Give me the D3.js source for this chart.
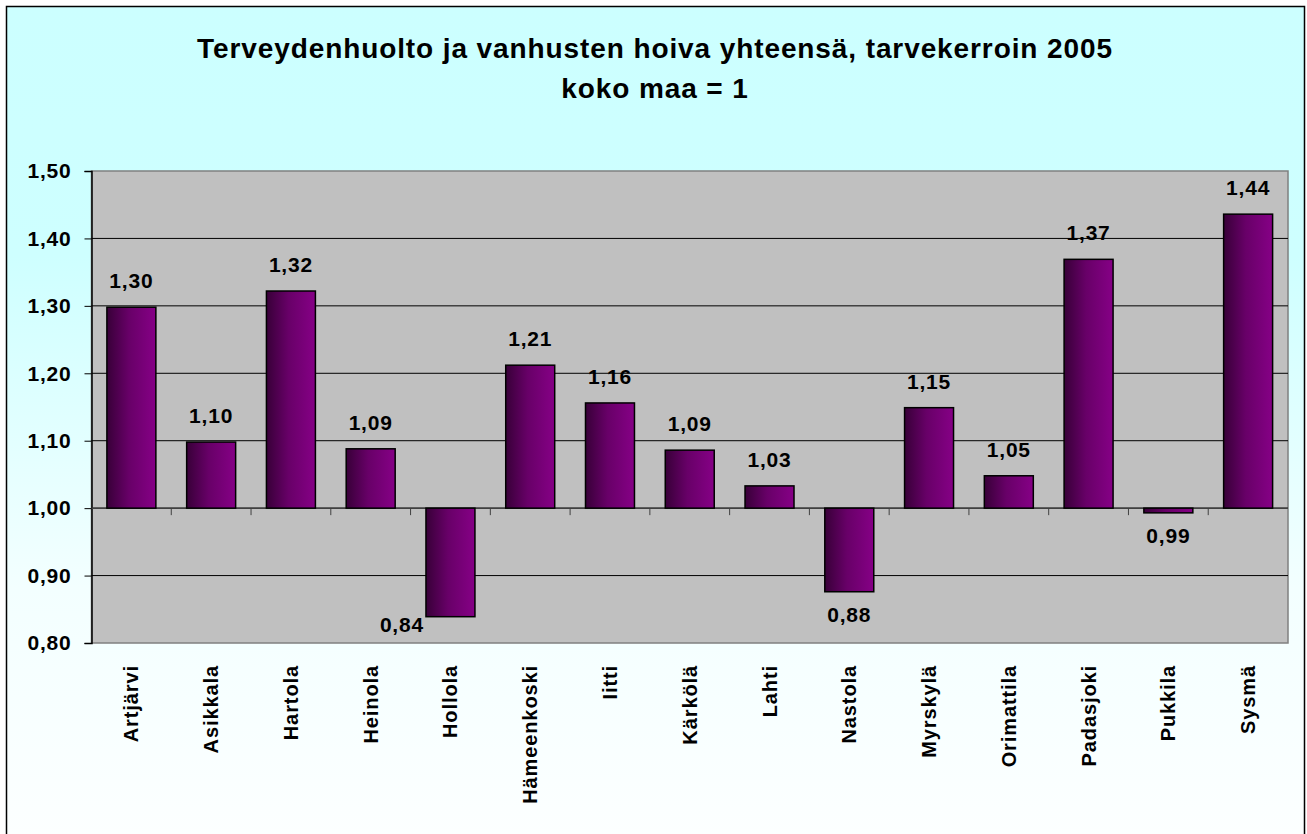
<!DOCTYPE html>
<html>
<head>
<meta charset="utf-8">
<script src="https://cdn.jsdelivr.net/npm/d3@7"></script>
<style>
  body { margin: 0; background: #fff; }
  svg text { font-family: "Liberation Sans", Arial, sans-serif; font-weight: bold; fill: #000; }
</style>
</head>
<body>
<svg id="chart" width="1307" height="834"></svg>
<script>
const municipalities = ["Artjärvi", "Asikkala", "Hartola", "Heinola", "Hollola", "Hämeenkoski", "Iitti",
  "Kärkölä", "Lahti", "Nastola", "Myrskylä", "Orimattila", "Padasjoki", "Pukkila", "Sysmä"];
const needIndex = [1.298, 1.098, 1.322, 1.088, 0.839, 1.212, 1.156, 1.086, 1.033, 0.876, 1.149, 1.048, 1.369, 0.993, 1.436];
const yTicks = [0.8, 0.9, 1.0, 1.1, 1.2, 1.3, 1.4, 1.5];
const titleLines = ["Terveydenhuolto ja vanhusten hoiva yhteensä, tarvekerroin 2005", "koko maa = 1"];
const baseline = 1.0;

const svg = d3.select("#chart");
const plot = { left: 91.5, right: 1288, top: 171, bottom: 643 };

const defs = svg.append("defs");
const bg = defs.append("linearGradient").attr("id", "bg").attr("x1", 0).attr("y1", 0).attr("x2", 0).attr("y2", 1);
bg.append("stop").attr("offset", "0%").attr("stop-color", "#ccffff");
bg.append("stop").attr("offset", "30%").attr("stop-color", "#ceffff");
bg.append("stop").attr("offset", "70%").attr("stop-color", "#f3ffff");
bg.append("stop").attr("offset", "100%").attr("stop-color", "#fcffff");

const barGrad = defs.append("linearGradient").attr("id", "bar").attr("x1", 0).attr("y1", 0).attr("x2", 1).attr("y2", 0);
barGrad.append("stop").attr("offset", "0%").attr("stop-color", "#380038");
barGrad.append("stop").attr("offset", "45%").attr("stop-color", "#680068");
barGrad.append("stop").attr("offset", "100%").attr("stop-color", "#860086");

// chart area
svg.append("rect")
  .attr("x", 6.5).attr("y", 6.5).attr("width", 1298).attr("height", 830)
  .attr("fill", "url(#bg)").attr("stroke", "#000").attr("stroke-width", 1.5);

svg.append("text")
  .attr("x", 655).attr("y", 58)
  .attr("text-anchor", "middle")
  .style("font-size", "28px").style("letter-spacing", "0.9px")
  .selectAll("tspan")
  .data(titleLines)
  .enter()
  .append("tspan")
  .attr("x", 655)
  .attr("dy", (d, i) => (i === 0 ? 0 : 40))
  .text((d) => d);

const x = d3.scaleBand().domain(municipalities).range([plot.left, plot.right]).paddingInner(0.386).paddingOuter(0.193);
const xCat = d3.scaleBand().domain(municipalities).range([plot.left, plot.right]);
const y = d3.scaleLinear().domain([0.8, 1.5]).range([plot.bottom, plot.top]);

svg.append("rect")
  .attr("x", plot.left).attr("y", plot.top)
  .attr("width", plot.right - plot.left).attr("height", plot.bottom - plot.top)
  .attr("fill", "#c0c0c0").attr("stroke", "#808080").attr("stroke-width", 1.5);

svg.append("g")
  .selectAll("line")
  .data(yTicks.slice(1, -1))
  .enter()
  .append("line")
  .attr("x1", plot.left).attr("x2", plot.right)
  .attr("y1", (d) => y(d)).attr("y2", (d) => y(d))
  .attr("stroke", "#000").attr("stroke-width", 1);

// y axis
const yAxis = svg.append("g")
  .attr("transform", `translate(${plot.left},0)`)
  .call(d3.axisLeft(y).tickValues(yTicks).tickSize(7).tickPadding(13).tickFormat((d) => d3.format(".2f")(d).replace(".", ",")));
yAxis.select(".domain").attr("stroke", "#000").attr("stroke-width", 1.5);
yAxis.selectAll(".tick line").attr("stroke", "#000");
yAxis.selectAll(".tick text")
  .style("font-size", "21px").style("letter-spacing", "0.8px")
  .attr("font-family", null);

// category axis at 1,00
const catAxis = svg.append("g").attr("transform", `translate(0,${y(baseline)})`);
catAxis.append("line")
  .attr("x1", plot.left).attr("x2", plot.right)
  .attr("stroke", "#404040").attr("stroke-width", 1.5);
catAxis.selectAll(".cat-tick")
  .data(municipalities.slice(1))
  .enter()
  .append("line")
  .attr("class", "cat-tick")
  .attr("x1", (d) => xCat(d)).attr("x2", (d) => xCat(d))
  .attr("y1", 0).attr("y2", 7)
  .attr("stroke", "#404040");

// bars
svg.append("g")
  .selectAll("rect")
  .data(needIndex)
  .enter()
  .append("rect")
  .attr("x", (d, i) => x(municipalities[i]))
  .attr("width", x.bandwidth())
  .attr("y", (d) => y(Math.max(d, baseline)))
  .attr("height", (d) => Math.abs(y(d) - y(baseline)))
  .attr("fill", "url(#bar)")
  .attr("stroke", "#000").attr("stroke-width", 1.5);

// value labels
const fmt = (v) => d3.format(".2f")(v).replace(".", ",");
svg.append("g")
  .selectAll("text")
  .data(needIndex)
  .enter()
  .append("text")
  .style("font-size", "21px").style("letter-spacing", "0.8px")
  .each(function (d, i) {
    const t = d3.select(this);
    const cx = x(municipalities[i]) + x.bandwidth() / 2;
    if (d >= baseline) {
      t.attr("x", cx).attr("y", y(d) - 19).attr("text-anchor", "middle");
    } else {
      const below = y(d) + 30;
      if (below > plot.bottom - 8) {
        t.attr("x", x(municipalities[i]) - 2).attr("y", plot.bottom - 11).attr("text-anchor", "end");
      } else {
        t.attr("x", cx).attr("y", below).attr("text-anchor", "middle");
      }
    }
    t.text(fmt(d));
  });

// category labels
svg.append("g")
  .selectAll("text")
  .data(municipalities)
  .enter()
  .append("text")
  .attr("transform", (d) => `translate(${xCat(d) + xCat.bandwidth() / 2 + 7},665) rotate(-90)`)
  .attr("text-anchor", "end")
  .style("font-size", "20px").style("letter-spacing", "0.9px")
  .text((d) => d);
</script>
</body>
</html>
